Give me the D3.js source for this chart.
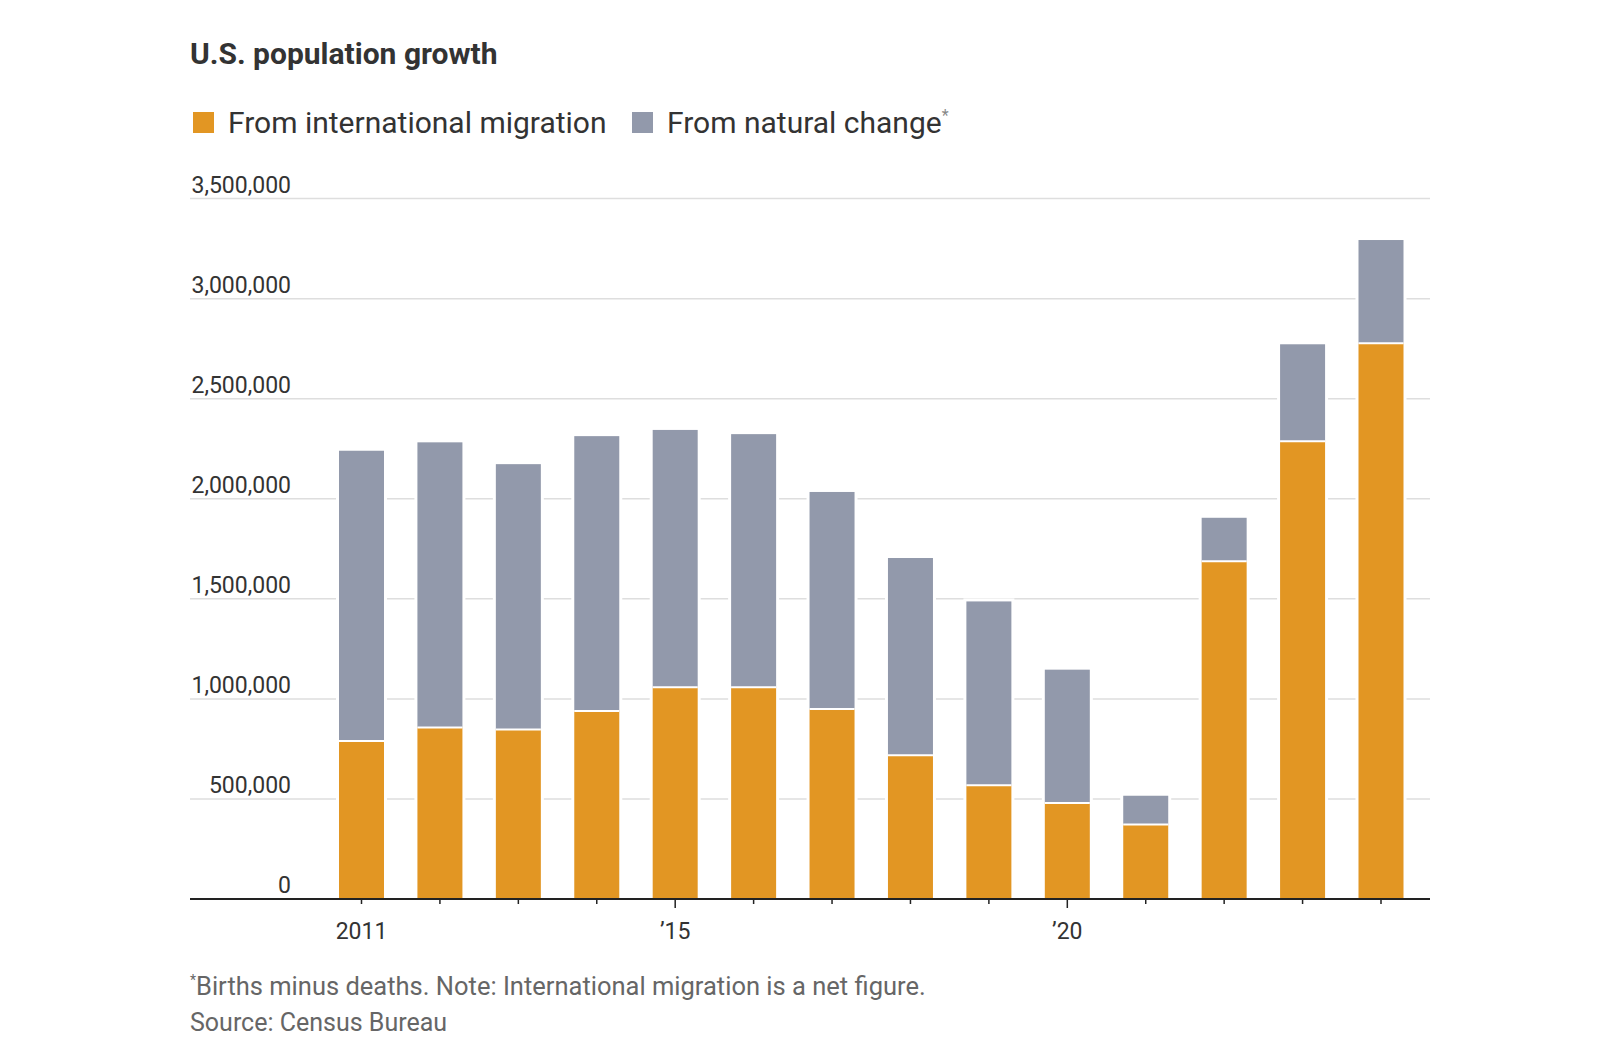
<!DOCTYPE html>
<html><head><meta charset="utf-8">
<script src="https://cdn.jsdelivr.net/npm/d3@7"></script>
<style>
body{margin:0;background:#fff}
svg{display:block}
text{font-family:Roboto,"Liberation Sans",sans-serif}
</style>
</head><body>
<svg id="c" width="1620" height="1064"></svg>
<script>
const years = [2011,2012,2013,2014,2015,2016,2017,2018,2019,2020,2021,2022,2023,2024];
const migration = [790000,857000,847000,940000,1058000,1058000,950000,718000,568000,480000,372000,1688000,2287000,2777000];
const natural = [1450000,1425000,1326000,1373000,1286000,1265000,1084000,986000,919000,666000,144000,217000,485000,516000];
const xLabels = ["2011","","","","\u201915","","","","","\u201920","","","",""];
const yTicks = [0,500000,1000000,1500000,2000000,2500000,3000000,3500000];
const seriesNames = ["From international migration","From natural change"];
const colors = ["#E29623","#9299AB"];

const svg = d3.select("#c");
svg.append("rect").attr("width",1620).attr("height",1064).attr("fill","#fff");

const y = d3.scaleLinear().domain([0,3500000]).range([899,198.6]);
const x = d3.scalePoint().domain(years).range([361.5,1381]);
const bw = 45;

// gridlines + y labels
const g = svg.append("g");
g.selectAll("line.grid").data(yTicks.slice(1)).join("line")
  .attr("x1",190).attr("x2",1430)
  .attr("y1",d=>y(d)).attr("y2",d=>y(d))
  .attr("stroke","#dedede").attr("stroke-width",1.5);
g.selectAll("text.yl").data(yTicks).join("text")
  .attr("x",291).attr("y",d=>y(d)-6)
  .attr("text-anchor","end").attr("font-size",23).attr("fill","#333")
  .text(d=>d3.format(",")(d));

// stack
const rows = years.map((yr,i)=>({year:yr, migration:migration[i], natural:natural[i]}));
const stack = d3.stack().keys(["migration","natural"])(rows);

// white backing
svg.append("g").selectAll("rect").data(rows).join("rect")
  .attr("x",d=>x(d.year)-bw/2-3).attr("width",bw+6)
  .attr("y",d=>y(d.migration+d.natural)-3).attr("height",d=>y(0)-y(d.migration+d.natural)+3)
  .attr("fill","#fff");

stack.forEach((s,k)=>{
  svg.append("g").selectAll("rect").data(s).join("rect")
    .attr("x",d=>x(d.data.year)-bw/2).attr("width",bw)
    .attr("y",d=>y(d[1])).attr("height",d=>y(d[0])-y(d[1]))
    .attr("fill",colors[k]);
});
// separators
svg.append("g").selectAll("line").data(rows).join("line")
  .attr("x1",d=>x(d.year)-bw/2).attr("x2",d=>x(d.year)+bw/2)
  .attr("y1",d=>y(d.migration)).attr("y2",d=>y(d.migration))
  .attr("stroke","#fff").attr("stroke-width",2);

// x axis
svg.append("line").attr("x1",190).attr("x2",1430).attr("y1",899).attr("y2",899)
  .attr("stroke","#222").attr("stroke-width",2);
svg.append("g").selectAll("line").data(years).join("line")
  .attr("x1",d=>x(d)).attr("x2",d=>x(d))
  .attr("y1",899).attr("y2",(d,i)=> (xLabels[i] && i>0) ? 908 : 904)
  .attr("stroke","#222").attr("stroke-width",1.5);
svg.append("g").selectAll("text").data(years).join("text")
  .attr("x",d=>x(d)).attr("y",939).attr("text-anchor","middle")
  .attr("font-size",23).attr("fill","#333")
  .text((d,i)=>xLabels[i]);

// title
svg.append("text").attr("x",190).attr("y",64).attr("font-size",30).attr("font-weight",700)
  .attr("fill","#333").text("U.S. population growth");

// legend
const lx = [193,632];
seriesNames.forEach((n,i)=>{
  svg.append("rect").attr("x",lx[i]).attr("y",112).attr("width",21).attr("height",21).attr("fill",colors[i]);
  const t = svg.append("text").attr("x",lx[i]+35).attr("y",133).attr("font-size",30).attr("fill","#333").text(n);
  if(i===1) t.append("tspan").attr("font-size",16).attr("dy",-12).attr("fill","#888").text("*");
});

// footnotes
const f1 = svg.append("text").attr("x",190).attr("y",995).attr("font-size",25.5).attr("fill","#666");
f1.append("tspan").attr("font-size",14).attr("dy",-10).text("*");
f1.append("tspan").attr("dy",10).text("Births minus deaths. Note: International migration is a net figure.");
svg.append("text").attr("x",190).attr("y",1031).attr("font-size",25).attr("fill","#666").text("Source: Census Bureau");
</script>
</body></html>
